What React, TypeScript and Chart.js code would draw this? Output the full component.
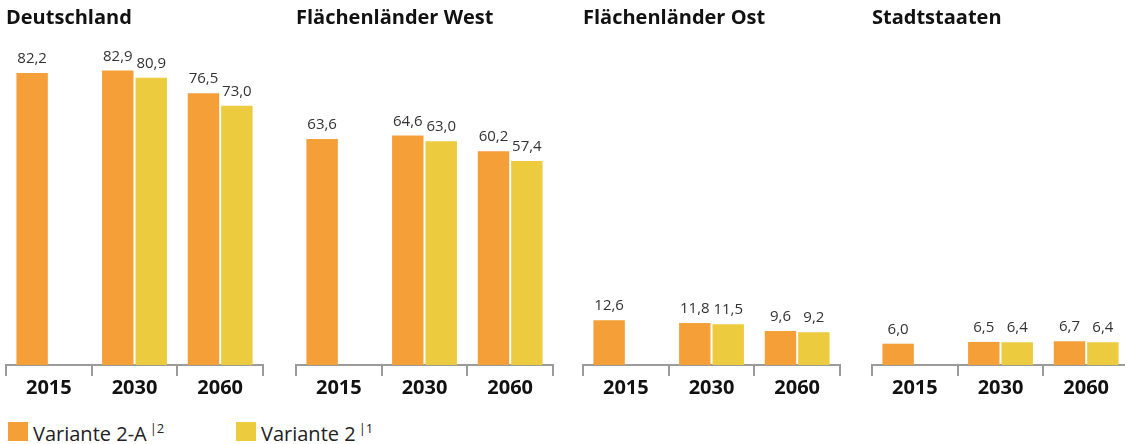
import React, { useEffect, useRef } from "react";
import { Chart, registerables } from "chart.js";

Chart.register(...registerables);

const categories = ["2015", "2030", "2060"];
const regions = ["Deutschland", "Flächenländer West", "Flächenländer Ost", "Stadtstaaten"];
const variante2A = [
  [82.2, 82.9, 76.5],
  [63.6, 64.6, 60.2],
  [12.6, 11.8, 9.6],
  [6.0, 6.5, 6.7],
];
const variante2 = [
  [null, 80.9, 73.0],
  [null, 63.0, 57.4],
  [null, 11.5, 9.2],
  [null, 6.4, 6.4],
];
const seriesNames = ["Variante 2-A", "Variante 2"];
const seriesNotes = ["|2", "|1"];

const ORANGE = "#F49F38";
const YELLOW = "#ECCB3E";
const FONT = "'Open Sans', 'DejaVu Sans', sans-serif";
const panelLefts = [6, 296, 583, 872];
const AXIS_W = 257;
const PAD = 2;
const Y_MAX = 91.5;

const valueLabels = {
  id: "valueLabels",
  afterDatasetsDraw(chart: any) {
    const ctx = chart.ctx;
    ctx.save();
    ctx.font = `15px ${FONT}`;
    ctx.fillStyle = "#333";
    ctx.textAlign = "center";
    ctx.textBaseline = "alphabetic";
    chart.data.datasets.forEach((ds: any, di: number) => {
      const meta = chart.getDatasetMeta(di);
      meta.data.forEach((bar: any, i: number) => {
        const v = ds.data[i];
        if (v === null || v === undefined) return;
        ctx.fillText(v.toFixed(1).replace(".", ","), bar.x, bar.y - 10);
      });
    });
    ctx.restore();
  },
};

function Panel({ idx }: { idx: number }) {
  const ref = useRef<HTMLCanvasElement>(null);
  useEffect(() => {
    const chart = new Chart(ref.current!, {
      type: "bar",
      data: {
        labels: categories,
        datasets: [
          {
            label: seriesNames[0],
            data: variante2A[idx],
            backgroundColor: ORANGE,
            categoryPercentage: 0.78,
            barPercentage: 0.94,
          },
          {
            label: seriesNames[1],
            data: variante2[idx] as any,
            backgroundColor: YELLOW,
            categoryPercentage: 0.78,
            barPercentage: 0.94,
          },
        ],
      },
      options: {
        responsive: false,
        animation: false,
        layout: { padding: { left: PAD, right: PAD, top: 0, bottom: 0 } },
        plugins: {
          legend: { display: false },
          tooltip: { enabled: false },
          title: {
            display: true,
            text: regions[idx],
            align: "start",
            color: "#111",
            font: { family: FONT, size: 20, weight: "bold" },
            padding: { top: 6, bottom: 10 },
          },
        },
        scales: {
          x: {
            border: { display: true, color: "#9b9b9b", width: 2 },
            grid: {
              display: true,
              offset: true,
              drawOnChartArea: false,
              drawTicks: true,
              tickLength: 11,
              color: "#9b9b9b",
              lineWidth: 2,
            },
            ticks: {
              color: "#111",
              padding: 0,
              font: { family: FONT, size: 20, weight: "bold" },
            },
          },
          y: {
            display: false,
            min: 0,
            max: Y_MAX,
          },
        },
      },
      plugins: [valueLabels],
    });
    return () => chart.destroy();
  }, [idx]);
  return (
    <canvas
      ref={ref}
      width={AXIS_W + 2 * PAD}
      height={400}
      style={{ position: "absolute", left: panelLefts[idx] - PAD, top: 0 }}
    />
  );
}

function LegendItem({ color, name, note, left }: { color: string; name: string; note: string; left: number }) {
  return (
    <div style={{ position: "absolute", left, top: 420, display: "flex", alignItems: "center", height: 22 }}>
      <div style={{ width: 20, height: 19, background: color, marginRight: 5 }} />
      <span style={{ fontFamily: FONT, fontSize: 20, color: "#222", lineHeight: "22px", whiteSpace: "nowrap" }}>
        {name}
        <span style={{ fontSize: 13, verticalAlign: "8px", marginLeft: 3 }}>{note}</span>
      </span>
    </div>
  );
}

export default function App() {
  return (
    <div
      style={{
        position: "absolute",
        left: 0,
        top: 0,
        width: 1125,
        height: 444,
        overflow: "hidden",
        background: "#fff",
      }}
    >
      {regions.map((_, i) => (
        <Panel key={i} idx={i} />
      ))}
      <LegendItem color={ORANGE} name={seriesNames[0]} note={seriesNotes[0]} left={8} />
      <LegendItem color={YELLOW} name={seriesNames[1]} note={seriesNotes[1]} left={236} />
    </div>
  );
}
